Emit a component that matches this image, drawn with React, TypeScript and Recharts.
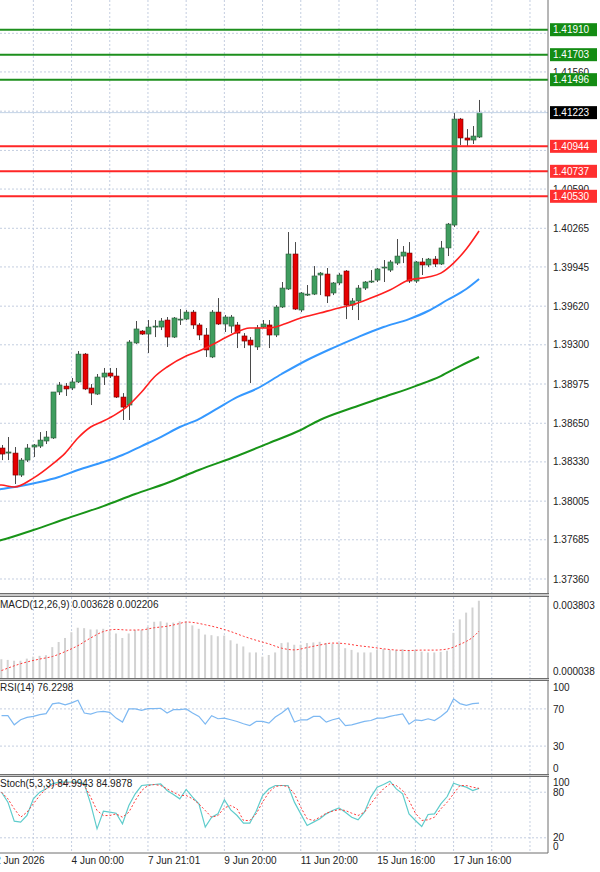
import React from 'react';
import {
  ComposedChart,
  Bar,
  Line,
  XAxis,
  YAxis,
  CartesianGrid,
  ReferenceLine,
} from 'recharts';

const FONT = '"Liberation Sans", Arial, sans-serif';

// H4 candles, oldest first
const opens = [
  1.38445, 1.38403, 1.38403, 1.38221, 1.38345, 1.38453, 1.38461, 1.38503, 1.38528, 1.38909,
  1.38958, 1.38942, 1.38992, 1.39223, 1.38942, 1.38892, 1.39033, 1.39066, 1.39041, 1.38867,
  1.38801, 1.39315, 1.39414, 1.39389, 1.39447, 1.39447, 1.39505, 1.39364, 1.39505, 1.39513,
  1.39571, 1.39464, 1.39381, 1.39199, 1.39571, 1.39472, 1.39455, 1.39464, 1.39373, 1.39339,
  1.39282, 1.39447, 1.39464, 1.39381, 1.39613, 1.39762, 1.40052, 1.39588, 1.39712, 1.3972,
  1.39878, 1.39886, 1.39729, 1.39812, 1.39911, 1.39629, 1.39663, 1.3977, 1.3982, 1.39836,
  1.39936, 1.39919, 1.39977, 1.40035, 1.4006, 1.39828, 1.39986, 1.39961, 1.4001, 1.39969,
  1.40102, 1.40292, 1.4117, 1.41013, 1.40996, 1.41021,
];
const highs = [
  1.3847, 1.38536, 1.38453, 1.38362, 1.38478, 1.38478, 1.38577, 1.38586, 1.38909, 1.38992,
  1.38983, 1.39025, 1.39248, 1.39232, 1.38975, 1.39058, 1.39108, 1.39108, 1.39108, 1.389,
  1.39339, 1.39497, 1.39422, 1.39505, 1.39505, 1.39522, 1.3953, 1.3953, 1.39596, 1.39588,
  1.39588, 1.3948, 1.39439, 1.39588, 1.39687, 1.39547, 1.39547, 1.39489, 1.39397, 1.39364,
  1.39464, 1.39505, 1.39505, 1.39629, 1.3982, 1.40234, 1.40151, 1.39737, 1.39795, 1.39952,
  1.39903, 1.39936, 1.3982, 1.39894, 1.39919, 1.39687, 1.39795, 1.39828, 1.39919, 1.39936,
  1.40002, 1.40002, 1.40176, 1.40118, 1.40151, 1.39994, 1.40019, 1.40019, 1.40035, 1.4016,
  1.40309, 1.4122, 1.41179, 1.41087, 1.41112, 1.41328,
];
const lows = [
  1.38345, 1.38345, 1.38147, 1.38205, 1.38329, 1.3837, 1.38445, 1.38478, 1.3852, 1.38884,
  1.38876, 1.38925, 1.38983, 1.38925, 1.38801, 1.38884, 1.38967, 1.39025, 1.38859, 1.38677,
  1.38677, 1.39307, 1.39381, 1.39232, 1.39364, 1.39422, 1.39282, 1.39356, 1.39464, 1.39505,
  1.39431, 1.39339, 1.39199, 1.3919, 1.39464, 1.39406, 1.39397, 1.39273, 1.39273, 1.38983,
  1.39257, 1.39439, 1.39273, 1.39364, 1.39605, 1.39754, 1.39588, 1.39571, 1.39704, 1.39712,
  1.39712, 1.39646, 1.39712, 1.39795, 1.39513, 1.39588, 1.39505, 1.39754, 1.39812, 1.3982,
  1.3982, 1.39903, 1.39961, 1.39977, 1.39812, 1.39812, 1.39878, 1.39944, 1.39944, 1.39961,
  1.40035, 1.40276, 1.40955, 1.40947, 1.40963, 1.41013,
];
const closes = [
  1.38395, 1.38412, 1.38221, 1.38345, 1.38445, 1.3847, 1.38511, 1.38536, 1.38909, 1.38967,
  1.38934, 1.38992, 1.39223, 1.38934, 1.389, 1.39033, 1.39066, 1.39041, 1.38867, 1.38784,
  1.39323, 1.39431, 1.39389, 1.39447, 1.39455, 1.39497, 1.39364, 1.39522, 1.39513, 1.39571,
  1.39464, 1.39381, 1.39257, 1.39571, 1.39472, 1.3953, 1.3953, 1.39397, 1.39331, 1.39298,
  1.39439, 1.39472, 1.39381, 1.39613, 1.3977, 1.40052, 1.39596, 1.39729, 1.3972, 1.3987,
  1.39894, 1.39704, 1.39812, 1.39878, 1.39629, 1.39663, 1.3977, 1.3982, 1.39828, 1.39928,
  1.39944, 1.39986, 1.40035, 1.40068, 1.39828, 1.39986, 1.39961, 1.4001, 1.39969, 1.40102,
  1.403, 1.4117, 1.41013, 1.40996, 1.41029, 1.41223,
];

// moving averages as [bar index, price]; index -1 is the bar just off the left edge
const fastMa: [number, number][] = [
  [-1, 1.3814], [0, 1.38138], [2, 1.38122], [5, 1.38196], [8, 1.38312], [10, 1.38403],
  [12, 1.38528], [14, 1.38619], [16, 1.38668], [18, 1.38726], [20, 1.38801], [22, 1.38909],
  [24, 1.39033], [26, 1.39116], [29, 1.39207], [31, 1.39248], [33, 1.39298], [36, 1.39381],
  [39, 1.39439], [42, 1.39439], [44, 1.39464], [47, 1.39522], [50, 1.39563], [53, 1.39605],
  [55, 1.39629], [58, 1.39687], [61, 1.39754], [64, 1.39836], [67, 1.39861], [69, 1.39894],
  [71, 1.39977], [73, 1.40093], [75, 1.40242],
];
const midMa: [number, number][] = [
  [-1, 1.38097], [0, 1.38105], [3, 1.3813], [6, 1.38163], [9, 1.38205], [12, 1.38263],
  [16, 1.38329], [19, 1.38387], [22, 1.38461], [25, 1.38536], [28, 1.38619], [31, 1.38685],
  [34, 1.38776], [37, 1.38867], [40, 1.38934], [44, 1.39058], [48, 1.39174], [52, 1.39273],
  [56, 1.39364], [60, 1.39447], [64, 1.39513], [67, 1.3958], [70, 1.39671], [73, 1.39762],
  [75, 1.39845],
];
const slowMa: [number, number][] = [
  [-1, 1.3767], [0, 1.37683], [5, 1.37766], [10, 1.37857], [16, 1.37964], [21, 1.38064],
  [26, 1.38155], [31, 1.38263], [37, 1.38379], [42, 1.38486], [47, 1.38594], [50, 1.38677],
  [55, 1.38776], [60, 1.38867], [65, 1.38958], [69, 1.39041], [72, 1.39124], [75, 1.39199],
];

const resistance = [1.4191, 1.41703, 1.41496];
const support = [1.40944, 1.40737, 1.4053];

const priceTicks = [
  1.3736, 1.37685, 1.38005, 1.3833, 1.3865, 1.38975, 1.393, 1.3962, 1.39945, 1.40265,
  1.4059, 1.4091, 1.41235, 1.4156, 1.4188,
];

// MACD(12,26,9)
const macdHist = [
  0.00088, 0.00085, 0.00081, 0.00081, 0.00091, 0.001, 0.00104, 0.00107, 0.00145, 0.00169,
  0.00188, 0.00215, 0.00236, 0.00234, 0.00228, 0.00228, 0.00231, 0.0022, 0.00209, 0.00188,
  0.00209, 0.00225, 0.00225, 0.0024, 0.00264, 0.00266, 0.0026, 0.0026, 0.00266, 0.00263,
  0.00247, 0.00231, 0.00204, 0.00201, 0.00196, 0.00199, 0.00177, 0.00161, 0.00148, 0.0012,
  0.0012, 0.001, 0.00108, 0.0012, 0.00164, 0.00167, 0.00156, 0.00156, 0.00164, 0.00167,
  0.0017, 0.00164, 0.00161, 0.00164, 0.0014, 0.00132, 0.0012, 0.0012, 0.0012, 0.00132,
  0.00136, 0.00132, 0.00132, 0.00136, 0.00132, 0.00132, 0.00124, 0.0012, 0.0012, 0.00123,
  0.00128, 0.00212, 0.00275, 0.00307, 0.00331, 0.003628,
];
const macdSignal: [number, number][] = [
  [0, 0.00035], [3, 0.00067], [6, 0.00089], [8, 0.00101], [10, 0.00124], [12, 0.00152],
  [14, 0.00188], [16, 0.00218], [18, 0.00228], [20, 0.00225], [22, 0.00226], [24, 0.00236],
  [26, 0.00243], [28, 0.00256], [29, 0.00263], [30, 0.00261], [32, 0.0025], [34, 0.00236],
  [36, 0.00218], [38, 0.00196], [40, 0.00177], [42, 0.0016], [44, 0.0014], [46, 0.00132],
  [48, 0.00143], [50, 0.00155], [52, 0.00164], [54, 0.00161], [56, 0.00152], [58, 0.00145],
  [60, 0.00137], [62, 0.00131], [64, 0.00129], [66, 0.00131], [68, 0.00131], [70, 0.00136],
  [71, 0.00145], [72, 0.00158], [73, 0.00172], [74, 0.00191], [75, 0.002206],
];

// RSI(14)
const rsi = [
  62.7, 62.7, 52.9, 58.3, 60.9, 61.9, 63.8, 64.9, 75.4, 76.5,
  74.3, 76.5, 79.4, 65.6, 64.5, 66.7, 67.4, 66.3, 60.1, 55.8,
  70.0, 70.0, 68.5, 70.3, 70.3, 70.7, 65.6, 69.2, 69.2, 70.0,
  65.6, 61.9, 53.6, 62.7, 59.4, 60.1, 58.3, 56.5, 54.0, 52.1,
  56.5, 56.5, 54.7, 61.2, 65.6, 71.0, 55.8, 58.3, 58.3, 61.9,
  61.9, 55.8, 58.3, 60.1, 52.1, 52.9, 54.7, 56.5, 57.5, 60.1,
  60.1, 61.9, 63.4, 64.5, 53.6, 58.3, 57.5, 59.4, 57.5, 61.9,
  67.4, 80.8, 75.7, 73.9, 75.7, 76.2298,
];

// Stochastic(5,3,3)
const stochK = [
  80.0, 66.9, 41.9, 40.6, 49.3, 71.3, 80.0, 84.4, 91.0, 93.2,
  93.2, 93.2, 93.2, 91.0, 64.7, 31.8, 55.0, 53.7, 52.4, 38.4,
  62.5, 77.9, 88.8, 89.7, 90.1, 91.0, 82.2, 77.0, 71.3, 83.6,
  73.5, 64.7, 34.0, 47.1, 51.5, 70.0, 56.8, 49.3, 39.3, 39.3,
  55.0, 75.7, 84.4, 88.8, 88.8, 88.8, 66.9, 51.5, 36.2, 40.6,
  45.0, 51.5, 55.9, 59.4, 53.7, 47.1, 43.7, 53.7, 73.5, 86.6,
  90.1, 94.5, 84.4, 77.9, 51.5, 42.8, 34.9, 50.7, 51.5, 64.7,
  74.3, 91.9, 88.8, 86.6, 82.2, 84.9943,
];
const stochD = [
  80.0, 71.3, 58.1, 47.1, 53.7, 64.7, 75.7, 84.4, 88.8, 91.0,
  91.9, 92.3, 92.3, 88.8, 73.5, 55.9, 49.3, 49.3, 51.5, 47.1,
  53.7, 69.1, 82.2, 88.8, 90.1, 88.8, 84.4, 80.0, 75.7, 75.7,
  71.3, 64.7, 55.9, 47.1, 49.3, 59.4, 62.5, 58.1, 42.8, 42.8,
  51.5, 66.9, 80.0, 87.5, 88.8, 87.5, 77.9, 60.3, 45.0, 42.8,
  47.1, 52.4, 55.0, 57.2, 55.9, 52.4, 49.3, 53.7, 64.7, 75.7,
  84.4, 91.0, 88.8, 82.2, 69.1, 52.4, 42.8, 43.7, 47.1, 58.1,
  66.9, 77.9, 88.8, 88.8, 86.6, 84.9878,
];

// time axis: bar index of each label and vertical grid line
const timeIdx = [-1, 11, 23, 35, 47, 59, 71];
const timeText = [
  '2 Jun 2026', '4 Jun 00:00', '7 Jun 21:01', '9 Jun 20:00',
  '11 Jun 20:00', '15 Jun 16:00', '17 Jun 16:00',
];
const gridIdx = [5, 11, 17, 23, 29, 35, 41, 47, 53, 59, 65, 71, 77, 83];

const X_DOMAIN: [number, number] = [-0.24, 85.83];
const PRICE_DOMAIN: [number, number] = [1.37244, 1.42156];
const GRID = '#c4cee0';
const AXIS = '#6e6e6e';
const LAST = closes[closes.length - 1];

// price tags are drawn as the last ticks so they sit on top of the scale text
const tagTicks = [LAST, ...resistance, ...support];
const tagColor = (v: number) =>
  resistance.includes(v) ? '#148c14' : support.includes(v) ? '#ff2f2f' : '#000';
const scaleTicks = priceTicks.filter((t) => !tagTicks.some((g) => Math.abs(g - t) < 0.00045));

const pick = (pairs: [number, number][], i: number) => {
  const hit = pairs.find((p) => p[0] === i);
  return hit ? hit[1] : null;
};

const candleRows = [-1, ...opens.map((_, i) => i)].map((i) => ({
  i,
  open: opens[i],
  high: highs[i],
  low: lows[i],
  close: closes[i],
  fast: pick(fastMa, i),
  mid: pick(midMa, i),
  slow: pick(slowMa, i),
}));
const macdRows = macdHist.map((h, i) => ({ i, h, s: pick(macdSignal, i) }));
const rsiRows = rsi.map((v, i) => ({ i, v }));
const stochRows = stochK.map((k, i) => ({ i, k, d: stochD[i] }));

const Candle = (props: any) => {
  const { x, y, width, height, payload } = props;
  if (!payload || payload.open == null || !Number.isFinite(y)) return null;
  const top = Math.min(y, y + height);
  const h = Math.abs(height);
  const { open, high, low, close } = payload;
  const k = high > low ? h / (high - low) : 0;
  const cx = Math.round(x + width / 2) + 0.5;
  const bodyTop = top + (high - Math.max(open, close)) * k;
  const bodyH = Math.max(1, Math.abs(open - close) * k);
  const up = close >= open;
  return (
    <g>
      <line x1={cx} x2={cx} y1={top} y2={top + h} stroke="#4a4a4a" strokeWidth={1} />
      <rect
        x={cx - 2.5}
        y={bodyTop}
        width={5}
        height={bodyH}
        fill={up ? '#3f9d5f' : '#e50000'}
        stroke={up ? '#2c5a3a' : '#6a0000'}
        strokeWidth={0.6}
      />
    </g>
  );
};

const priceTick = (p: any) => {
  const v = p.payload.value;
  if (tagTicks.includes(v)) {
    return (
      <g>
        <rect x={p.x - 3} y={p.y - 6.5} width={47} height={13} fill={tagColor(v)} />
        <text x={p.x} y={p.y + 3.6} fill="#fff" fontSize={10} fontFamily={FONT}>
          {v.toFixed(5)}
        </text>
      </g>
    );
  }
  return (
    <text x={p.x} y={p.y + 3.6} fontSize={10} fontFamily={FONT} fill="#222" textAnchor="start">
      {v.toFixed(5)}
    </text>
  );
};

// right-hand scale labels; the end labels are pulled inside the pane
const sideTick =
  (fmt: (v: number) => string, lo: number, hi: number, top = 7, bottom = -6) => (p: any) => {
    const v = p.payload.value;
    const dy = v === hi ? top : v === lo ? bottom : 0;
    return (
      <text x={p.x} y={p.y + dy + 3.6} fontSize={10} fontFamily={FONT} fill="#222" textAnchor="start">
        {fmt(v)}
      </text>
    );
  };

const timeTick = (p: any) => {
  const n = timeIdx.indexOf(p.payload.value);
  return (
    <text x={p.x} y={p.y + 11} fontSize={10} fontFamily={FONT} fill="#222" textAnchor="start">
      {timeText[n]}
    </text>
  );
};

const paneTitle: React.CSSProperties = {
  position: 'absolute',
  left: 0,
  fontSize: 10,
  lineHeight: '12px',
  fontFamily: FONT,
  color: '#222',
  whiteSpace: 'nowrap',
  zIndex: 2,
};

const splitter = (top: number, height: number): React.CSSProperties => ({
  position: 'absolute',
  left: 0,
  top,
  width: 549,
  height,
  boxSizing: 'border-box',
  borderTop: `1px solid ${AXIS}`,
  borderBottom: `1px solid ${AXIS}`,
  background: '#c9c9c9',
});

const pane = (top: number): React.CSSProperties => ({ position: 'absolute', left: 0, top });

const margin = { top: 0, right: 0, bottom: 0, left: 0 };

export default function App() {
  return (
    <div
      style={{
        position: 'absolute',
        left: 0,
        top: 0,
        width: 600,
        height: 872,
        overflow: 'hidden',
        background: '#fff',
      }}
    >
      {/* price pane */}
      <div style={pane(0)}>
        <ComposedChart width={600} height={593} data={candleRows} margin={margin}>
          <CartesianGrid
            horizontalValues={priceTicks}
            verticalValues={gridIdx}
            stroke={GRID}
            strokeDasharray="2 2"
          />
          <XAxis type="number" dataKey="i" domain={X_DOMAIN} allowDataOverflow hide />
          <YAxis
            orientation="right"
            width={52}
            domain={PRICE_DOMAIN}
            allowDataOverflow
            ticks={[...scaleTicks, ...tagTicks]}
            interval={0}
            tickSize={0}
            tickMargin={5}
            axisLine={{ stroke: AXIS }}
            tickLine={false}
            tick={priceTick}
          />
          <ReferenceLine y={LAST} stroke="#c3d3e6" />
          {resistance.map((v) => (
            <ReferenceLine key={v} y={v} stroke="#1d8f1d" strokeWidth={2} />
          ))}
          {support.map((v) => (
            <ReferenceLine key={v} y={v} stroke="#ff2626" strokeWidth={2} />
          ))}
          <Bar
            dataKey={(r: any) => (r.low == null ? null : [r.low, r.high])}
            barSize={5}
            shape={(p: any) => <Candle {...p} />}
            isAnimationActive={false}
          />
          <Line
            dataKey="slow"
            type="monotone"
            stroke="#189418"
            strokeWidth={2}
            dot={false}
            activeDot={false}
            connectNulls
            isAnimationActive={false}
          />
          <Line
            dataKey="mid"
            type="monotone"
            stroke="#3598ff"
            strokeWidth={2}
            dot={false}
            activeDot={false}
            connectNulls
            isAnimationActive={false}
          />
          <Line
            dataKey="fast"
            type="monotone"
            stroke="#ff1f1f"
            strokeWidth={1.6}
            dot={false}
            activeDot={false}
            connectNulls
            isAnimationActive={false}
          />
        </ComposedChart>
      </div>

      <div style={splitter(593, 4)} />

      {/* MACD pane */}
      <div style={pane(597)}>
        <ComposedChart width={600} height={81} data={macdRows} margin={margin}>
          <CartesianGrid horizontal={false} verticalValues={gridIdx} stroke={GRID} strokeDasharray="2 2" />
          <XAxis type="number" dataKey="i" domain={X_DOMAIN} allowDataOverflow hide />
          <YAxis
            orientation="right"
            width={52}
            domain={[0, 0.003803]}
            allowDataOverflow
            ticks={[0.000038, 0.003803]}
            interval={0}
            tickSize={0}
            tickMargin={5}
            axisLine={{ stroke: AXIS }}
            tickLine={false}
            tick={sideTick((v) => v.toFixed(6), 0.000038, 0.003803, 8)}
          />
          <Bar dataKey="h" barSize={2} fill="#d2d2d2" isAnimationActive={false} />
          <Line
            dataKey="s"
            type="monotone"
            stroke="#ff3a3a"
            strokeWidth={1}
            strokeDasharray="2 2"
            dot={false}
            activeDot={false}
            connectNulls
            isAnimationActive={false}
          />
        </ComposedChart>
      </div>
      <div style={{ ...paneTitle, top: 599 }}>MACD(12,26,9) 0.003628 0.002206</div>

      <div style={splitter(678, 3)} />

      {/* RSI pane */}
      <div style={pane(681)}>
        <ComposedChart width={600} height={93} data={rsiRows} margin={margin}>
          <CartesianGrid
            horizontalValues={[30, 70]}
            verticalValues={gridIdx}
            stroke={GRID}
            strokeDasharray="2 2"
          />
          <XAxis type="number" dataKey="i" domain={X_DOMAIN} allowDataOverflow hide />
          <YAxis
            orientation="right"
            width={52}
            domain={[0, 100]}
            ticks={[0, 30, 70, 100]}
            interval={0}
            tickSize={0}
            tickMargin={5}
            axisLine={{ stroke: AXIS }}
            tickLine={false}
            tick={sideTick((v) => String(v), 0, 100, 6)}
          />
          <Line
            dataKey="v"
            type="linear"
            stroke="#7db8f2"
            strokeWidth={1.2}
            dot={false}
            activeDot={false}
            isAnimationActive={false}
          />
        </ComposedChart>
      </div>
      <div style={{ ...paneTitle, top: 682 }}>RSI(14) 76.2298</div>

      <div style={splitter(774, 3)} />

      {/* Stochastic pane with the time axis */}
      <div style={pane(777)}>
        <ComposedChart width={600} height={96} data={stochRows} margin={margin}>
          <CartesianGrid
            horizontalValues={[20, 80]}
            verticalValues={gridIdx}
            stroke={GRID}
            strokeDasharray="2 2"
          />
          <XAxis
            type="number"
            dataKey="i"
            domain={X_DOMAIN}
            allowDataOverflow
            ticks={timeIdx}
            interval={0}
            height={20}
            tickSize={0}
            tickMargin={0}
            axisLine={{ stroke: AXIS }}
            tickLine={false}
            tick={timeTick}
          />
          <YAxis
            orientation="right"
            width={52}
            domain={[0, 100]}
            ticks={[0, 20, 80, 100]}
            interval={0}
            tickSize={0}
            tickMargin={5}
            axisLine={{ stroke: AXIS }}
            tickLine={false}
            tick={sideTick((v) => String(v), 0, 100, 5.5, -7)}
          />
          <Line
            dataKey="k"
            type="linear"
            stroke="#5fcccc"
            strokeWidth={1.2}
            dot={false}
            activeDot={false}
            isAnimationActive={false}
          />
          <Line
            dataKey="d"
            type="linear"
            stroke="#ff3a3a"
            strokeWidth={1}
            strokeDasharray="2 2"
            dot={false}
            activeDot={false}
            isAnimationActive={false}
          />
        </ComposedChart>
      </div>
      <div style={{ ...paneTitle, top: 778 }}>Stoch(5,3,3) 84.9943 84.9878</div>
    </div>
  );
}
